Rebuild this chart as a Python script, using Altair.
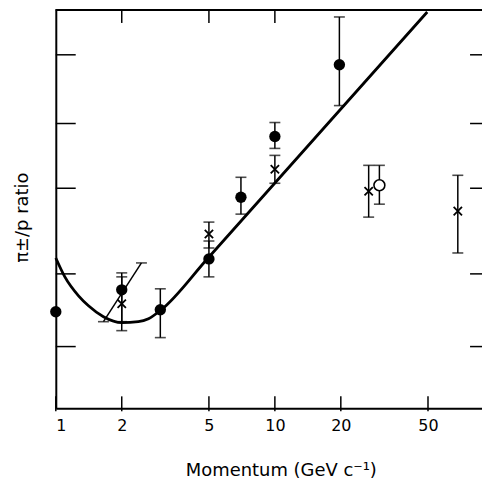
import altair as alt
import pandas as pd

# ---- data (y in arbitrary ratio units) ----
x_ticks = [1, 2, 5, 10, 20, 50]
top_ticks = [2, 5, 10]
y_ticks = [3.55, 2.86, 2.21, 1.35, 0.62]

# filled circles
fc_x = [1, 2, 3, 5, 7, 10, 19.7]
fc_y = [0.97, 1.19, 0.99, 1.50, 2.12, 2.73, 3.45]
# error bars of filled circles (the point at 1 has none)
fce_x = [2, 3, 5, 7, 10, 19.7]
fce_hi = [1.36, 1.20, 1.68, 2.32, 2.87, 3.93]
fce_lo = [0.87, 0.71, 1.32, 1.95, 2.61, 3.04]

# crosses
xm_x = [2, 5, 10, 26.8, 68.4]
xm_y = [1.05, 1.75, 2.40, 2.18, 1.98]
xm_hi = [1.32, 1.87, 2.54, 2.44, 2.34]
xm_lo = [0.78, 1.61, 2.26, 1.92, 1.56]

# open circle
oc_x = [30]
oc_y = [2.24]
oc_hi = [2.44]
oc_lo = [2.05]

# slanted bar near p = 2
seg_x = [1.65, 2.46]
seg_y = [0.87, 1.46]

# curve
cv_x = [1.0, 1.1, 1.27, 1.41, 1.65, 2.0, 2.38, 2.65, 3.03, 4.91, 49.6]
cv_y = [1.51, 1.32, 1.13, 1.03, 0.92, 0.86, 0.87, 0.90, 0.99, 1.50, 3.98]

W, H = 428, 400
FONT = "DejaVu Sans"

xscale = alt.Scale(type="log", domain=[1, 88.2], nice=False)
yscale = alt.Scale(domain=[0, 4], nice=False, zero=False)

xaxis = alt.Axis(values=x_ticks, format="~g", ticks=False, grid=False,
                 domainColor="black", domainWidth=2,
                 labelFont=FONT, labelFontSize=16, labelColor="black", labelPadding=9,
                 title="Momentum (GeV c⁻¹)", titleFont=FONT, titleFontSize=18,
                 titleFontWeight="normal", titleColor="black",
                 titleX=226, titleY=67, titleAlign="center", titleBaseline="alphabetic")
yaxis = alt.Axis(values=y_ticks, labels=False, ticks=False, grid=False,
                 domainColor="black", domainWidth=2,
                 title="π±/p ratio", titleFont=FONT, titleFontSize=18,
                 titleFontWeight="normal", titleColor="black",
                 titleX=-33, titleY=208, titleAlign="center", titleBaseline="middle")


def X(f):
    return alt.X(f, type="quantitative", scale=xscale, axis=xaxis)


def Y(f):
    return alt.Y(f, type="quantitative", scale=yscale, axis=yaxis)


fc = pd.DataFrame({"x": fc_x, "y": fc_y})
fce = pd.DataFrame({"x": fce_x, "hi": fce_hi, "lo": fce_lo})
xm = pd.DataFrame({"x": xm_x, "y": xm_y, "hi": xm_hi, "lo": xm_lo})
oc = pd.DataFrame({"x": oc_x, "y": oc_y, "hi": oc_hi, "lo": oc_lo})
errs = pd.concat([fce, xm[["x", "hi", "lo"]], oc[["x", "hi", "lo"]]], ignore_index=True)
seg = pd.DataFrame({"x": [seg_x[0]], "y": [seg_y[0]], "x2": [seg_x[1]], "y2": [seg_y[1]]})
segends = pd.DataFrame({"x": seg_x, "y": seg_y})
cv = pd.DataFrame({"x": cv_x, "y": cv_y})
yt = pd.DataFrame({"v": y_ticks})
xt = pd.DataFrame({"v": x_ticks})
tt = pd.DataFrame({"v": top_ticks})

err_rule = alt.Chart(errs).mark_rule(color="black", strokeWidth=1.5).encode(
    x=X("x"), y=Y("lo"), y2="hi")
cap_hi = alt.Chart(errs).mark_tick(color="black", orient="horizontal", size=11, thickness=1.6).encode(
    x=X("x"), y=Y("hi"))
cap_lo = alt.Chart(errs).mark_tick(color="black", orient="horizontal", size=11, thickness=1.6).encode(
    x=X("x"), y=Y("lo"))
seg_rule = alt.Chart(seg).mark_rule(color="black", strokeWidth=1.5).encode(
    x=X("x"), y=Y("y"), x2="x2", y2="y2")
seg_caps = alt.Chart(segends).mark_tick(color="black", orient="horizontal", size=11, thickness=1.6).encode(
    x=X("x"), y=Y("y"))
curve = alt.Chart(cv).mark_line(color="black", strokeWidth=2.8, interpolate="monotone").encode(
    x=X("x"), y=Y("y"))
dots = alt.Chart(fc).mark_point(shape="circle", filled=True, color="black", size=130, opacity=1).encode(
    x=X("x"), y=Y("y"))
crosses = alt.Chart(xm).mark_point(shape="M-1,-1L1,1M-1,1L1,-1", color="black", size=70,
                                   strokeWidth=1.8, opacity=1).encode(x=X("x"), y=Y("y"))
opens = alt.Chart(oc).mark_point(shape="circle", filled=True, fill="white", stroke="black",
                                 strokeWidth=1.6, size=120, opacity=1).encode(x=X("x"), y=Y("y"))

left_ticks = alt.Chart(yt).mark_rule(color="black", strokeWidth=1.5).encode(
    y=Y("v"), x=alt.value(0), x2=alt.value(20))
right_ticks = alt.Chart(yt).mark_rule(color="black", strokeWidth=1.5).encode(
    y=Y("v"), x=alt.value(W - 12), x2=alt.value(W))
bottom_ticks = alt.Chart(xt).mark_rule(color="black", strokeWidth=1.5).encode(
    x=X("v"), y=alt.value(H - 12), y2=alt.value(H + 3))
top_ticks_l = alt.Chart(tt).mark_rule(color="black", strokeWidth=1.5).encode(
    x=X("v"), y=alt.value(0), y2=alt.value(13))
top_line = alt.Chart(yt).mark_rule(color="black", strokeWidth=2).encode(
    x=alt.value(0), x2=alt.value(W), y=alt.value(0))

chart = alt.layer(
    left_ticks, right_ticks, bottom_ticks, top_ticks_l, top_line,
    err_rule, cap_hi, cap_lo, seg_rule, seg_caps, curve, dots, crosses, opens
).properties(
    width=W, height=H,
    autosize=alt.AutoSizeParams(type="none"),
    padding={"left": 48, "top": 1, "right": 0, "bottom": 74},
).configure_view(stroke=None)

chart.save("out.html", embed_options={"renderer": "svg", "actions": False})
